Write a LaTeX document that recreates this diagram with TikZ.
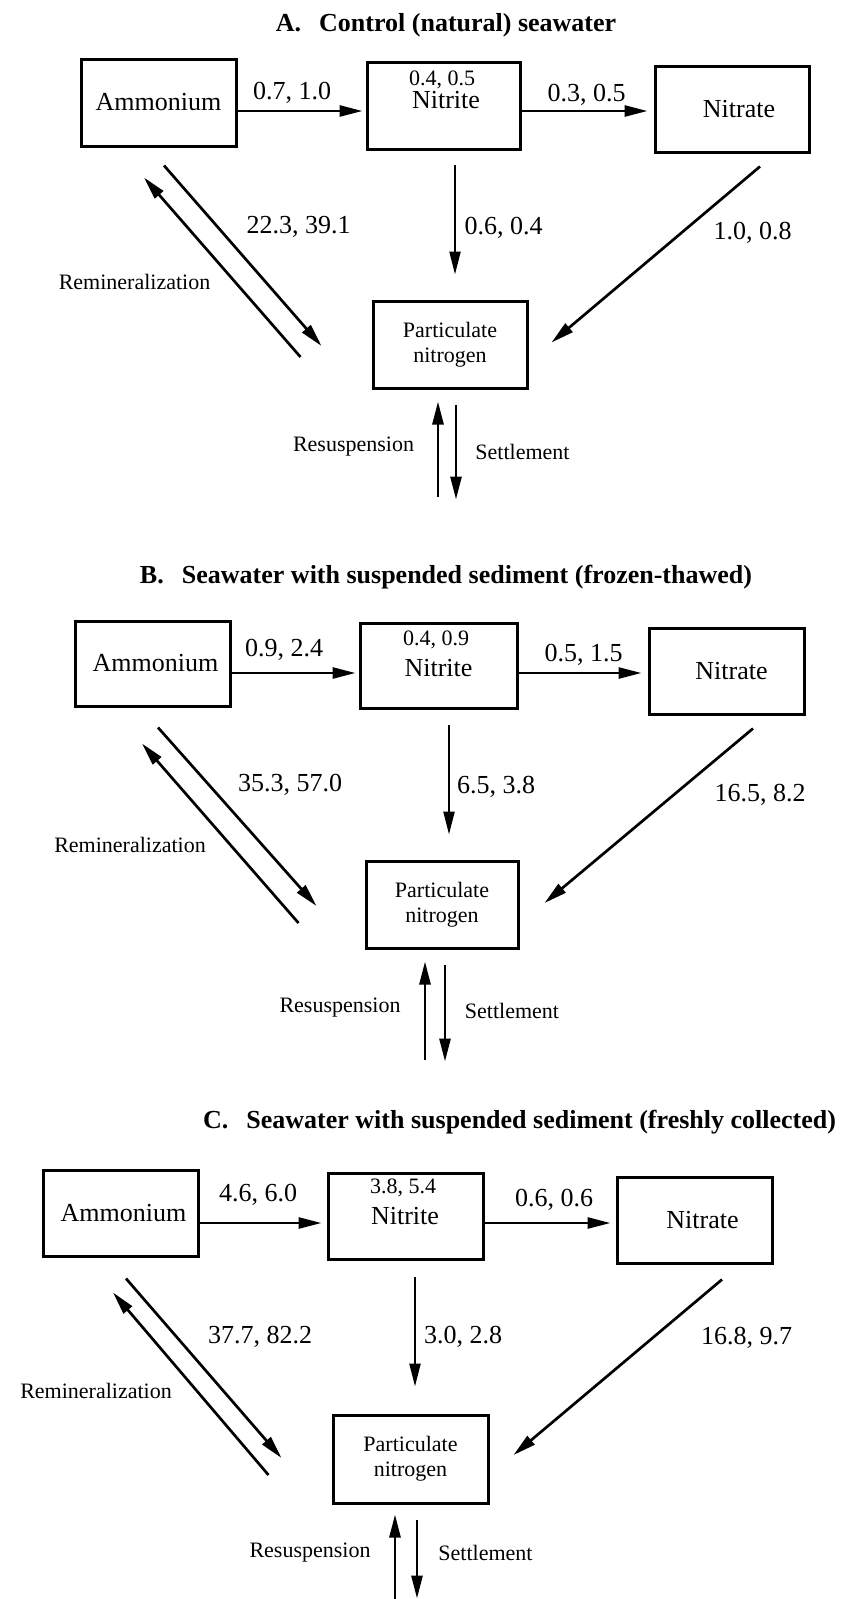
\documentclass[tikz,border=0pt]{standalone}
\usepackage{fontspec}
\setmainfont{Liberation Serif}
\usetikzlibrary{arrows.meta}
\tikzset{
    pool/.style={draw, line width=3pt, inner sep=0pt, minimum width=155pt, minimum height=86pt, font=\fontsize{26}{30}\selectfont},
    flux/.style={line width=2.7pt, -{Triangle[length=23pt,width=11pt]}},
    ratelabel/.style={font=\fontsize{26}{30}\selectfont},
    minorlabel/.style={font=\fontsize{22}{24}\selectfont},
    paneltitle/.style={font=\fontsize{26}{30}\selectfont\bfseries},
}
\begin{document}
\begin{tikzpicture}[x=1pt, y=-1pt]
        \useasboundingbox (0,0) rectangle (842,1599);
        % A
        \node[paneltitle] (titleA) at (446,25) {A.\hspace{0.45em} Control (natural) seawater};
        \node[pool, minimum height=87pt] (ammA) at (158.5,102.5) {Ammonium};
        \node[pool, minimum width=153pt, minimum height=87pt] (nitA) at (443.5,105.5) {};
        \node[pool, minimum width=154pt] (natA) at (732,109) {\hspace{14pt}Nitrate};
        \node[pool, minimum width=154pt, minimum height=87pt, align=center, font=\fontsize{22}{25}\selectfont] (partA) at (450,344.5) {Particulate\\nitrogen};
        \node[minorlabel] (nitrA) at (442,80) {0.4, 0.5};
        \node[ratelabel] (nitnameA) at (446,100) {Nitrite};
        \node[ratelabel] (k1A) at (292,93) {0.7, 1.0};
        \node[ratelabel] (k2A) at (586.5,95) {0.3, 0.5};
        \node[ratelabel] (k3A) at (503.5,228) {0.6, 0.4};
        \node[ratelabel] (k4A) at (752.5,233) {1.0, 0.8};
        \node[ratelabel] (k5A) at (298.5,227) {22.3, 39.1};
        \node[minorlabel] (remA) at (134.5,282) {Remineralization};
        \node[minorlabel] (resA) at (353.5,447) {Resuspension};
        \node[minorlabel] (setA) at (522.5,452) {Settlement};
        \draw[flux, shorten >=3pt] (ammA.east |- 0,111) -- (nitA.west |- 0,111);
        \draw[flux, shorten >=6pt] (nitA.east |- 0,111) -- (natA.west |- 0,111);
        \draw[flux, line width=2.2pt, shorten <=14pt, shorten >=25pt] (nitA.south -| 455,0) -- (partA.north -| 455,0);
        \draw[flux] ([xshift=28pt,yshift=-13pt]natA.south) -- ([xshift=23pt,yshift=2pt]partA.east);
        \draw[flux] ([xshift=5.5pt,yshift=-18pt]ammA.south) -- ([xshift=-50pt,yshift=-1.5pt]partA.west);
        \draw[flux] ([xshift=-71pt,yshift=-12.5pt]partA.west) -- ([xshift=-14.5pt,yshift=-30pt]ammA.south);
        \draw[flux] ([xshift=-12pt,yshift=-107pt]partA.south) -- ([xshift=-12pt,yshift=-12pt]partA.south);
        \draw[flux] ([xshift=6pt,yshift=-15pt]partA.south) -- ([xshift=6pt,yshift=-110pt]partA.south);
        % B
        \node[paneltitle] (titleB) at (446,577) {B.\hspace{0.45em} Seawater with suspended sediment (frozen-thawed)};
        \node[pool, minimum height=85pt] (ammB) at (152.5,663.5) {\hspace{6pt}Ammonium};
        \node[pool, minimum width=157pt, minimum height=85pt] (nitB) at (438.5,665.5) {};
        \node[pool] (natB) at (726.5,671) {\hspace{10pt}Nitrate};
        \node[pool, minimum width=152pt, minimum height=87pt, align=center, font=\fontsize{22}{25}\selectfont] (partB) at (442,905) {Particulate\\nitrogen};
        \node[minorlabel] (nitrB) at (436,640) {0.4, 0.9};
        \node[ratelabel] (nitnameB) at (438.5,668) {Nitrite};
        \node[ratelabel] (k1B) at (284,650) {0.9, 2.4};
        \node[ratelabel] (k2B) at (583.5,655) {0.5, 1.5};
        \node[ratelabel] (k3B) at (496,787) {6.5, 3.8};
        \node[ratelabel] (k4B) at (760,795) {16.5, 8.2};
        \node[ratelabel] (k5B) at (290,785) {35.3, 57.0};
        \node[minorlabel] (remB) at (130,845) {Remineralization};
        \node[minorlabel] (resB) at (340,1008) {Resuspension};
        \node[minorlabel] (setB) at (512,1011) {Settlement};
        \draw[flux, shorten >=3pt] (ammB.east |- 0,673) -- (nitB.west |- 0,673);
        \draw[flux, shorten >=6pt] (nitB.east |- 0,673) -- (natB.west |- 0,673);
        \draw[flux, line width=2.2pt, shorten <=15pt, shorten >=25.5pt] (nitB.south -| 449,0) -- (partB.north -| 449,0);
        \draw[flux] ([xshift=26.5pt,yshift=-13pt]natB.south) -- ([xshift=25pt,yshift=2pt]partB.east);
        \draw[flux] ([xshift=5.5pt,yshift=-20pt]ammB.south) -- ([xshift=-48pt,yshift=-1pt]partB.west);
        \draw[flux] ([xshift=-66pt,yshift=-18pt]partB.west) -- ([xshift=-10.5pt,yshift=-36pt]ammB.south);
        \draw[flux] ([xshift=-17pt,yshift=-109.5pt]partB.south) -- ([xshift=-17pt,yshift=-11.5pt]partB.south);
        \draw[flux] ([xshift=3pt,yshift=-14.5pt]partB.south) -- ([xshift=3pt,yshift=-111.5pt]partB.south);
        % C
        \node[paneltitle] (titleC) at (519.5,1122) {C.\hspace{0.45em} Seawater with suspended sediment (freshly collected)};
        \node[pool] (ammC) at (120.5,1213) {\hspace{6pt}Ammonium};
        \node[pool] (nitC) at (405.5,1216) {};
        \node[pool] (natC) at (694.5,1220) {\hspace{16pt}Nitrate};
        \node[pool, minimum height=88pt, align=center, font=\fontsize{22}{25}\selectfont] (partC) at (410.5,1459) {Particulate\\nitrogen};
        \node[minorlabel] (nitrC) at (403,1188) {3.8, 5.4};
        \node[ratelabel] (nitnameC) at (405,1216) {Nitrite};
        \node[ratelabel] (k1C) at (258,1195) {4.6, 6.0};
        \node[ratelabel] (k2C) at (554,1200) {0.6, 0.6};
        \node[ratelabel] (k3C) at (463,1337) {3.0, 2.8};
        \node[ratelabel] (k4C) at (746.5,1338) {16.8, 9.7};
        \node[ratelabel] (k5C) at (260,1337) {37.7, 82.2};
        \node[minorlabel] (remC) at (96,1391) {Remineralization};
        \node[minorlabel] (resC) at (310,1553) {Resuspension};
        \node[minorlabel] (setC) at (485.5,1553) {Settlement};
        \draw[flux, shorten >=5pt] (ammC.east |- 0,1223) -- (nitC.west |- 0,1223);
        \draw[flux, shorten >=5pt] (nitC.east |- 0,1223) -- (natC.west |- 0,1223);
        \draw[flux, line width=2.2pt, shorten <=16pt, shorten >=27pt] (nitC.south -| 415,0) -- (partC.north -| 415,0);
        \draw[flux] ([xshift=27.5pt,yshift=-15pt]natC.south) -- ([xshift=24pt,yshift=4pt]partC.east);
        \draw[flux] ([xshift=5.5pt,yshift=-21pt]ammC.south) -- ([xshift=-50pt,yshift=1pt]partC.west);
        \draw[flux] ([xshift=-63pt,yshift=-16pt]partC.west) -- ([xshift=-7.5pt,yshift=-35pt]ammC.south);
        \draw[flux] ([xshift=-15.5pt,yshift=-95pt]partC.south) -- ([xshift=-15.5pt,yshift=-10pt]partC.south);
        \draw[flux] ([xshift=6.5pt,yshift=-15pt]partC.south) -- ([xshift=6.5pt,yshift=-94pt]partC.south);
    \end{tikzpicture}
\end{document}
